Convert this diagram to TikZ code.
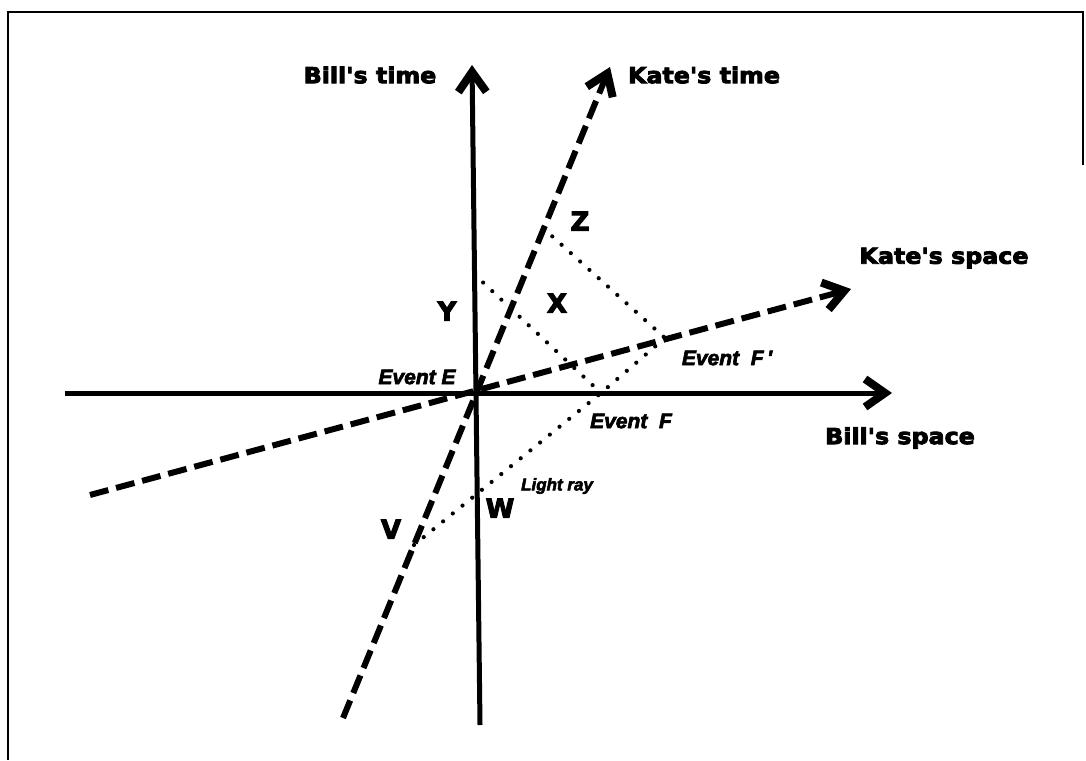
\documentclass[tikz,border=0pt]{standalone}
\usepackage{fontspec}
\usetikzlibrary{arrows.meta}
\newfontfamily\heavy{DejaVu Sans}[FakeStretch=1.08,FakeBold=4]
\newfontfamily\letterfont{DejaVu Sans}[FakeBold=4]
\newfontfamily\evfont{Liberation Sans}[FakeBold=3]
\tikzset{
  frameline/.style={line width=2.5pt},
  axistip/.style={-{Straight Barb[length=20pt,width=28pt,line width=8pt]}},
  billaxis/.style={line width=5pt, axistip},
  kateaxis/.style={line width=6pt, dash pattern=on 19pt off 8pt, axistip},
  dotline/.style={line width=4.2pt, line cap=round, dash pattern=on 0pt off 12.5pt},
  axlbl/.style={font=\heavy\bfseries\fontsize{22}{26}\selectfont, inner sep=0pt},
  ptlbl/.style={font=\letterfont\bfseries\fontsize{26}{30}\selectfont, inner sep=0pt},
  evlbl/.style={font=\evfont\bfseries\itshape\fontsize{21}{24}\selectfont, inner sep=0pt},
  raylbl/.style={font=\evfont\bfseries\itshape\fontsize{17}{20}\selectfont, inner sep=0pt},
}
\begin{document}
\begin{tikzpicture}[x=1pt,y=-1pt]
\useasboundingbox (0,0) rectangle (1086,760);
% frame
\coordinate (fr1) at (1083,165);
\coordinate (fr2) at (1083,12);
\coordinate (fr3) at (8,12);
\coordinate (fr4) at (8,760);
\draw[frameline] (fr1) -- (fr2) -- (fr3) -- (fr4);
% axis end points
\coordinate (btb) at (480,725);
\coordinate (btt) at (472,65);
\coordinate (bsl) at (65,393);
\coordinate (bsr) at (892,393);
\coordinate (ktb) at (343,718);
\coordinate (ktt) at (610,67);
\coordinate (ksl) at (90,495);
\coordinate (ksr) at (851,289);
% events
\coordinate (E) at (475,393);
\coordinate (F) at (601,393);
\coordinate (Fp) at (665,338);
\coordinate (Z) at (543,228);
\coordinate (Y) at (474,274);
\coordinate (V) at (414,545);
% axes
\draw[billaxis] (btb) -- (btt);
\draw[billaxis] (bsl) -- (bsr);
\draw[kateaxis] (ktb) -- (ktt);
\draw[kateaxis] (ksl) -- (ksr);
% dotted lines
\draw[dotline] (Z) -- (Fp);
\draw[dotline] (Y) -- (F);
\draw[dotline] (V) -- (F) -- (Fp);
% labels
\node[axlbl] (lbt) at (370,75) {Bill's time};
\node[axlbl] (lkt) at (704,75) {Kate's time};
\node[axlbl] (lks) at (944,258) {Kate's space};
\node[axlbl] (lbs) at (900,438) {Bill's space};
\node[ptlbl] (lZ) at (580,221) {Z};
\node[ptlbl] (lX) at (557,303) {X};
\node[ptlbl] (lY) at (447,311) {Y};
\node[ptlbl] (lV) at (391,529) {V};
\node[ptlbl] (lW) at (500,508) {W};
\node[evlbl] (lE) at (417,377) {Event E};
\node[evlbl] (lF) at (631,421) {Event~~F};
\node[evlbl] (lFp) at (727,358) {Event~~F\,'};
\node[raylbl] (lL) at (557,486) {Light ray};
\end{tikzpicture}
\end{document}
